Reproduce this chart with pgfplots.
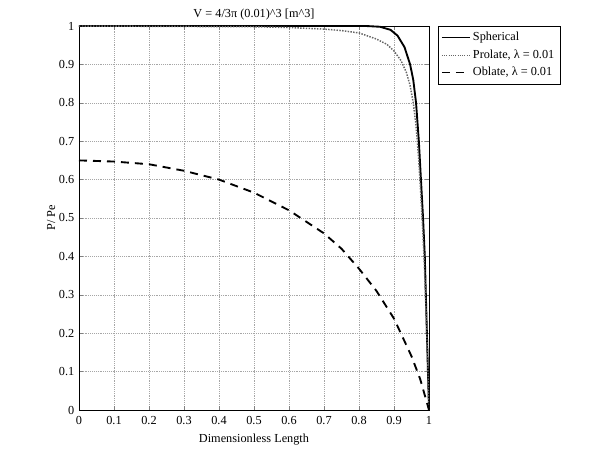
\documentclass[border=0pt]{standalone}
\usepackage{pgfplots}
\pgfplotsset{compat=1.18}
\usepackage{fontspec}
\setmainfont{Liberation Serif}
\begin{document}
\begin{tikzpicture}[x=1pt,y=1pt]
\path[use as bounding box] (-59.25,-30) rectangle (390.75,307.5);
\begin{axis}[
  at={(0,0)}, anchor=south west,
  scale only axis, width=262.5pt, height=288pt,
  xmin=0, xmax=1, ymin=0, ymax=1,
  xtick={0,0.1,...,1.0}, ytick={0,0.1,...,1.0},
  xticklabels={0,0.1,0.2,0.3,0.4,0.5,0.6,0.7,0.8,0.9,1},
  yticklabels={0,0.1,0.2,0.3,0.4,0.5,0.6,0.7,0.8,0.9,1},
  /pgf/number format/assume math mode=true,
  tick label style={font=\fontsize{9.2}{10}\selectfont},
  xticklabel style={yshift=-1.5pt},
  label style={font=\fontsize{9.2}{10}\selectfont},
  title style={font=\fontsize{9.2}{10}\selectfont, yshift=-5pt},
  title={V = 4/3π (0.01)\textasciicircum 3 [m\textasciicircum 3]},
  xlabel={Dimensionless Length},
  ylabel={P/ Pe},
  xlabel style={yshift=0pt},
  ylabel style={yshift=-4pt},
  grid=major,
  major grid style={densely dotted, gray!70, line width=0.4pt},
  tick align=inside, tick pos=both,
  major tick length=3pt,
  axis line style={black, line width=0.5pt},
  legend style={at={(1.025,1)}, anchor=north west, font=\fontsize{9.2}{10}\selectfont,
    draw=black, line width=0.4pt, inner sep=2.5pt, row sep=1.2pt,
    legend cell align=left},
  legend image code/.code={\draw[#1] (0pt,0pt) -- (21pt,0pt);},
  legend image post style={line width=0.7pt},
]
\addplot[black, line width=1.4pt] coordinates {
(0,1)(0.82,1)(0.86,0.998)(0.89,0.99)(0.91,0.975)(0.93,0.945)(0.946,0.9)(0.955,0.86)(0.963,0.8)(0.971,0.7)(0.977,0.6)(0.983,0.5)(0.988,0.4)(0.991,0.3)(0.994,0.2)(0.997,0.1)(1,0)};
\addlegendentry{Spherical}
\addplot[gray!80!black, densely dotted, line width=1.1pt] coordinates {
(0,1)(0.5,0.998)(0.6,0.996)(0.7,0.992)(0.75,0.988)(0.8,0.982)(0.85,0.966)(0.88,0.952)(0.9,0.935)(0.92,0.91)(0.935,0.88)(0.946,0.845)(0.955,0.8)(0.963,0.74)(0.97,0.66)(0.976,0.57)(0.982,0.47)(0.987,0.37)(0.991,0.27)(0.995,0.16)(0.998,0.07)(1,0)};
\addlegendentry{Prolate, λ = 0.01}
\addplot[black, line width=1.4pt, dash pattern=on 6pt off 4.5pt] coordinates {
(0,0.65)(0.1,0.647)(0.2,0.64)(0.3,0.623)(0.4,0.6)(0.5,0.566)(0.6,0.52)(0.7,0.46)(0.75,0.42)(0.8,0.368)(0.85,0.31)(0.9,0.238)(0.95,0.14)(0.975,0.08)(1,0)};
\addlegendentry{Oblate, λ = 0.01}
\end{axis}
\end{tikzpicture}
\end{document}
